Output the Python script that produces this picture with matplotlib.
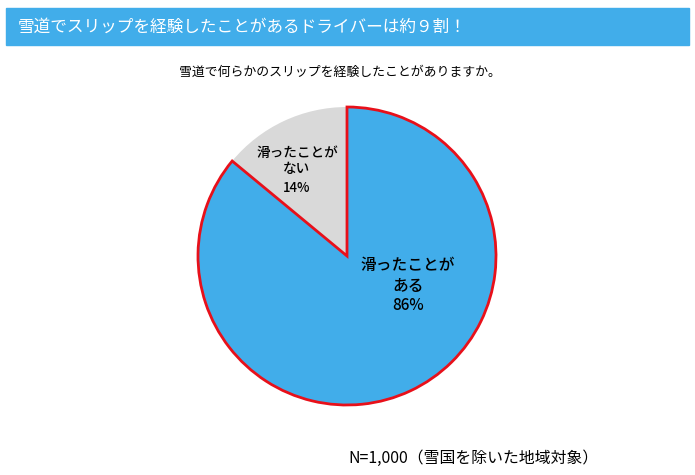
import matplotlib
matplotlib.use('Agg')
import matplotlib.pyplot as plt
from matplotlib.patches import Rectangle

plt.rcParams['font.family'] = ['Noto Sans CJK JP', 'DejaVu Sans']

title = '雪道でスリップを経験したことがあるドライバーは約９割！'
question = '雪道で何らかのスリップを経験したことがありますか。'
note = 'N=1,000（雪国を除いた地域対象）'

labels = ['滑ったことが\nある', '滑ったことが\nない']
values = [86, 14]
colors = ['#41ADEA', '#D9D9D9']

W, H = 695, 475
fig = plt.figure(figsize=(W / 100, H / 100), dpi=100)

# title bar
fig.patches.append(Rectangle((6 / W, 1 - 45 / H), 683 / W, 37 / H,
                             transform=fig.transFigure, color='#41ADEA', zorder=0))
fig.text(18 / W, 1 - 27 / H, title, color='white', fontsize=12, va='center', ha='left')
fig.text(340 / W, 1 - 72 / H, question, fontsize=9.3, va='center', ha='center')
fig.text(474 / W, 1 - 458 / H, note, fontsize=11.4, va='center', ha='center')

# pie
cx, cy, r = 347, 256, 149
ax = fig.add_axes([(cx - r) / W, (H - cy - r) / H, 2 * r / W, 2 * r / H])
wedges, _ = ax.pie(values, colors=colors, startangle=90, counterclock=False, radius=1)
wedges[0].set_edgecolor('#E8101A')
wedges[0].set_linewidth(2)
wedges[0].set_zorder(3)
wedges[1].set_edgecolor('none')
ax.set_xlim(-1, 1)
ax.set_ylim(-1, 1)
ax.set_aspect('equal')
ax.axis('off')

# labels inside slices
ax.text((408 - cx) / r, (cy - 276) / r, labels[0], fontsize=11.3, ha='center',
        va='center', linespacing=1.25, fontweight='medium', zorder=5)
ax.text((408 - cx) / r, (cy - 305) / r, f'{values[0]}%', fontsize=11, ha='center',
        va='center', fontweight='medium', zorder=5)
ax.text((297 - cx) / r, (cy - 161) / r, labels[1], fontsize=9.8, ha='center',
        va='center', linespacing=1.25, fontweight='medium', zorder=5)
ax.text((297 - cx) / r, (cy - 188) / r, f'{values[1]}%', fontsize=9.5, ha='center',
        va='center', fontweight='medium', zorder=5)

fig.savefig('out.png', dpi=100)
